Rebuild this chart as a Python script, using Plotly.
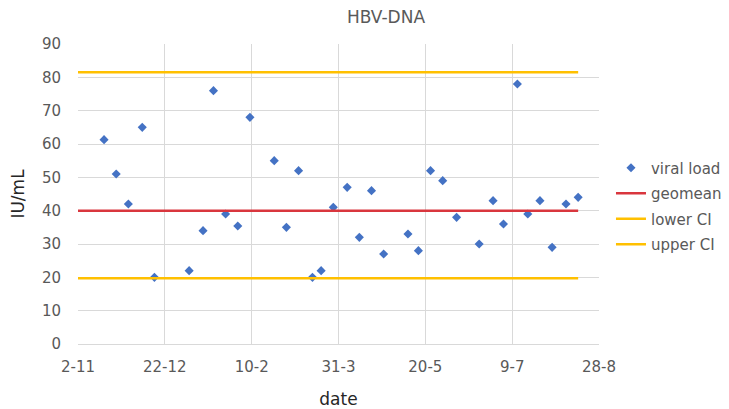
import plotly.graph_objects as go

dates = ["2015-11-17", "2015-11-24", "2015-12-01", "2015-12-09", "2015-12-16",
         "2016-01-05", "2016-01-13", "2016-01-19", "2016-01-26", "2016-02-02",
         "2016-02-09", "2016-02-23", "2016-03-01", "2016-03-08", "2016-03-16",
         "2016-03-21", "2016-03-28", "2016-04-05", "2016-04-12", "2016-04-19",
         "2016-04-26", "2016-05-10", "2016-05-16", "2016-05-23", "2016-05-30",
         "2016-06-07", "2016-06-20", "2016-06-28", "2016-07-04", "2016-07-12",
         "2016-07-18", "2016-07-25", "2016-08-01", "2016-08-09", "2016-08-16"]
viral_load = [61.3, 51, 42, 65, 20,
              22, 34, 76, 39, 35.4,
              68, 55, 35, 52, 20,
              22, 41, 47, 32, 46,
              27, 33, 28, 52, 49,
              38, 30, 43, 36, 78,
              39, 43, 29, 42, 44]
line_dates = ["2015-11-02", "2016-08-16"]
geomean = [40.0, 40.0]
lower_ci = [19.7, 19.7]
upper_ci = [81.5, 81.5]

grey = "#595959"
FONT = "DejaVu Sans, Liberation Sans, Arial, sans-serif"
W, H = 721, 401  # page body has an 8px margin
fig = go.Figure()
fig.add_trace(go.Scatter(x=dates, y=viral_load, mode="markers", name="viral load",
                         legendgroup="a",
                         marker=dict(symbol="diamond", size=7, color="#4472C4")))
fig.add_trace(go.Scatter(x=line_dates, y=geomean, mode="lines", name="geomean",
                         legendgroup="b",
                         line=dict(color="#D9363E", width=2.5)))
fig.add_trace(go.Scatter(x=line_dates, y=lower_ci, mode="lines", name="lower CI",
                         legendgroup="c",
                         line=dict(color="#FFC000", width=2.5)))
fig.add_trace(go.Scatter(x=line_dates, y=upper_ci, mode="lines", name="upper CI",
                         legendgroup="d",
                         line=dict(color="#FFC000", width=2.5)))

fig.update_layout(
    width=W, height=H,
    paper_bgcolor="white", plot_bgcolor="white",
    margin=dict(l=70, r=130, t=36, b=65, autoexpand=False),
    font=dict(family=FONT, color=grey, size=15),
    title=dict(text="HBV-DNA", xref="container", x=(386 - 8) / W, xanchor="center",
               yref="container", y=1 - 9 / H, yanchor="middle",
               font=dict(size=17, color=grey), automargin=False),
    xaxis=dict(
        range=["2015-11-02", "2016-08-28"],
        tick0="2015-11-02", dtick=50 * 86400000, tickformat="%-d-%-m",
        showgrid=True, gridcolor="#D9D9D9", gridwidth=1,
        showline=True, linecolor="#D9D9D9", linewidth=1,
        zeroline=False, ticks="outside", ticklen=9, tickcolor="rgba(0,0,0,0)",
        tickfont=dict(size=15, color=grey), automargin=False,
        title=dict(text="date", font=dict(size=17, color="#262626"), standoff=18),
    ),
    yaxis=dict(
        range=[0, 90], dtick=10,
        showgrid=True, gridcolor="#D9D9D9", gridwidth=1,
        showline=False, zeroline=True, zerolinecolor="#D9D9D9",
        ticks="outside", ticklen=13, tickcolor="rgba(0,0,0,0)",
        tickfont=dict(size=15, color=grey), automargin=False,
        title=dict(text="IU/mL", font=dict(size=17, color="#262626"), standoff=16),
    ),
    legend=dict(x=1.023, xanchor="left", y=0.46, yanchor="middle",
                font=dict(size=15, color=grey), itemwidth=30,
                tracegroupgap=3, bgcolor="rgba(0,0,0,0)"),
)

fig.write_html("out.html")
